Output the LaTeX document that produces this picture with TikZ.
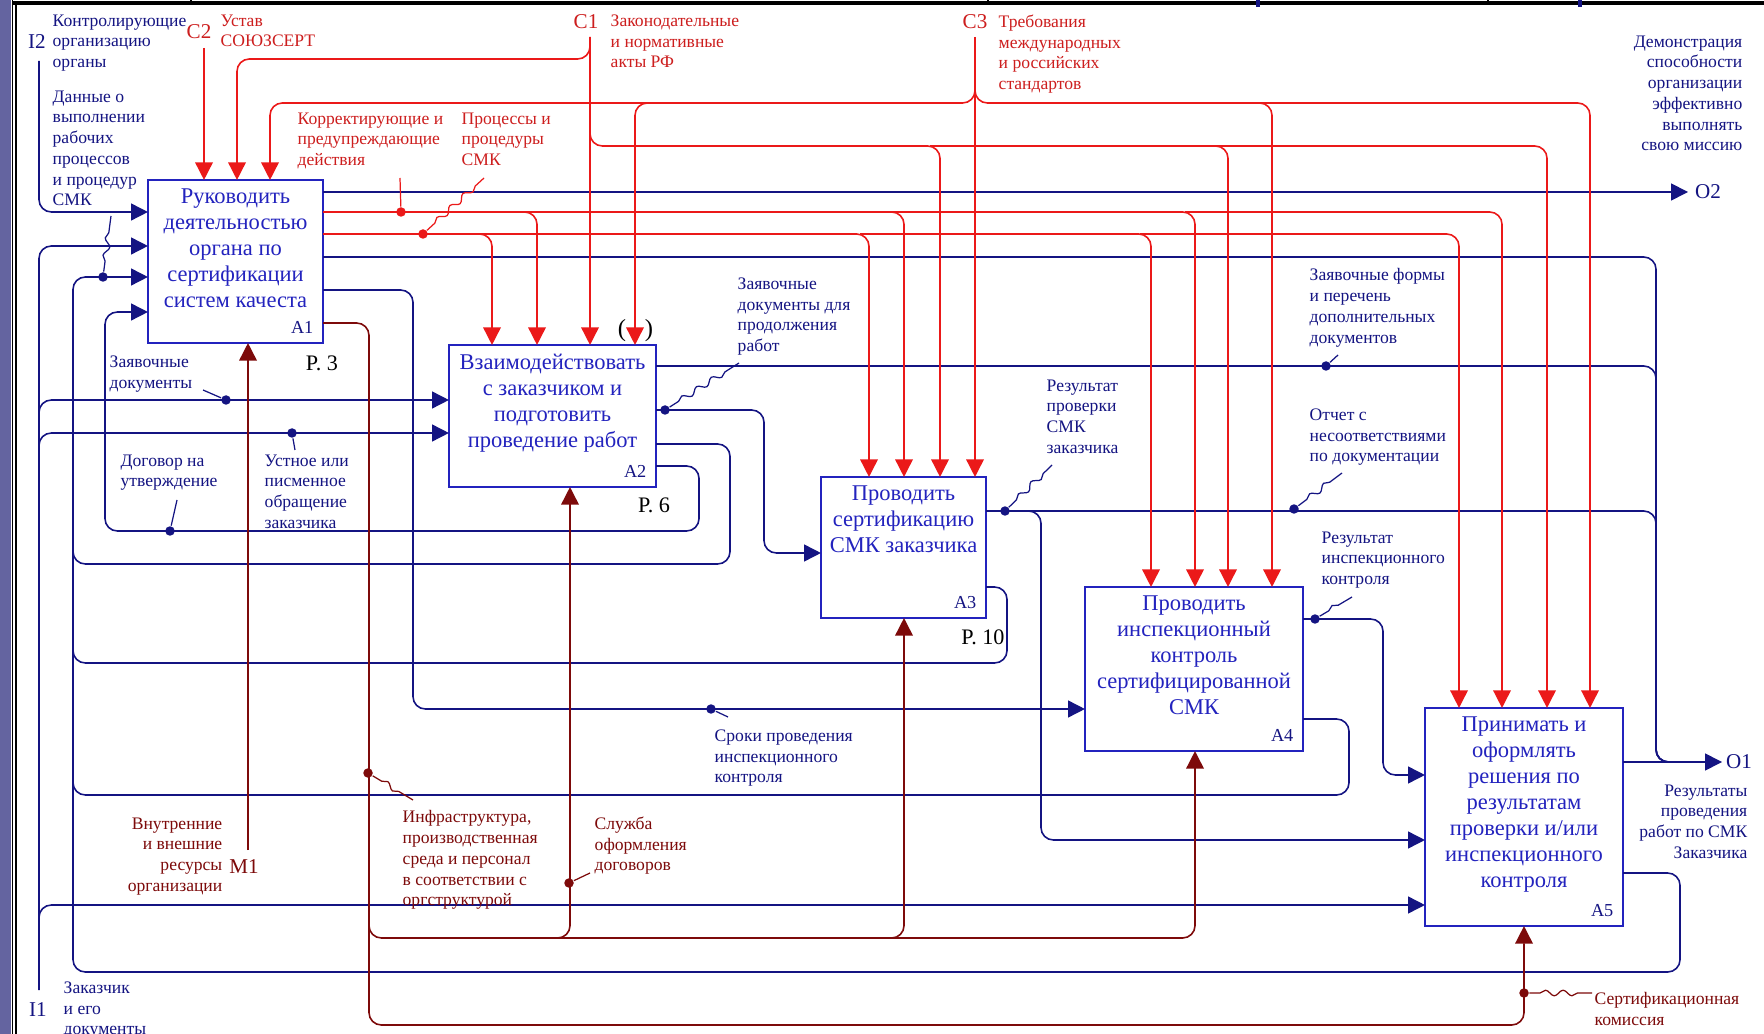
\documentclass[tikz,border=0pt]{standalone}
\usepackage{fontspec}
\setmainfont{Liberation Serif}
\usetikzlibrary{arrows.meta,positioning,decorations.pathmorphing}

\definecolor{idefblue}{RGB}{20,20,130}
\definecolor{boxblue}{RGB}{35,35,190}
\definecolor{ctlred}{RGB}{235,25,25}
\definecolor{ctltxt}{RGB}{205,30,30}
\definecolor{mechred}{RGB}{125,10,10}
\definecolor{sideband}{RGB}{100,100,160}

\tikzset{
 fn/.style={draw=boxblue,line width=0.6pt,inner sep=0pt,outer sep=0pt},
 fntext/.style={text=boxblue,font=\fontsize{6.4}{7.4}\selectfont,align=center,inner sep=0pt,anchor=north},
 fnnum/.style={text=idefblue,font=\fontsize{5.2}{6}\selectfont,inner sep=0pt,anchor=base east},
 lbl/.style={font=\fontsize{5}{5.9}\selectfont,inner sep=0pt,align=left,anchor=north west},
 rlbl/.style={lbl,align=right,anchor=north east},
 icom/.style={font=\fontsize{6}{6}\selectfont,inner sep=0pt},
 pgref/.style={font=\fontsize{6.3}{7}\selectfont,inner sep=0pt},
 io/.style={idefblue,line width=0.45pt,rounded corners=3.5pt},
 ioarr/.style={io,-{Triangle[length=4.8pt,width=4.8pt]}},
 ctl/.style={ctlred,line width=0.45pt,rounded corners=3.5pt},
 ctlarr/.style={ctl,-{Triangle[length=5pt,width=5pt]}},
 mch/.style={mechred,line width=0.45pt,rounded corners=3.5pt},
 mcharr/.style={mch,-{Triangle[length=5pt,width=5pt]}},
 jdot/.style={circle,fill,inner sep=0pt,minimum size=2.7pt},
 sq/.style={line width=0.35pt,decorate,decoration={snake,amplitude=0.8pt,segment length=5pt,pre length=3pt,post length=3pt}}
}

\begin{document}
\begin{tikzpicture}[x=0.01cm,y=-0.01cm]
\fill[white] (0,0) rectangle (1764,1034);
\useasboundingbox (0,0) rectangle (1764,1034);

% frame
\fill[sideband] (0,0) rectangle (11,1034);
\draw[black,line width=0.4pt] (12.5,0) -- (12.5,1034);
\draw[black,line width=0.4pt] (16,3) -- (16,1034);
\draw[black,line width=1pt] (12,3) -- (1764,3);
\foreach \tx in {191,988,1488} \draw[black,line width=0.5pt] (\tx,0) -- (\tx,4);
\foreach \tx in {1258,1580} \draw[idefblue,line width=1.2pt] (\tx,0) -- (\tx,7);

% activity boxes
\node[fn,minimum width=1.75cm,minimum height=1.63cm] (a1) at (235.5,261.5) {};
\node[fn,minimum width=2.07cm,minimum height=1.42cm] (a2) at (552.5,416) {};
\node[fn,minimum width=1.65cm,minimum height=1.41cm] (a3) at (903.5,547.5) {};
\node[fn,minimum width=2.18cm,minimum height=1.64cm] (a4) at (1194,669) {};
\node[fn,minimum width=1.98cm,minimum height=2.18cm] (a5) at (1524,817) {};
\node[fntext] (a1t) at ([shift={(0,8)}]a1.north) {Руководить\\деятельностью\\органа по\\сертификации\\систем качеста};
\node[fntext] (a2t) at ([shift={(0,8)}]a2.north) {Взаимодействовать\\с заказчиком и\\подготовить\\проведение работ};
\node[fntext] (a3t) at ([shift={(0,8)}]a3.north) {Проводить\\сертификацию\\СМК заказчика};
\node[fntext] (a4t) at ([shift={(0,8)}]a4.north) {Проводить\\инспекционный\\контроль\\сертифицированной\\СМК};
\node[fntext] (a5t) at ([shift={(0,8)}]a5.north) {Принимать и\\оформлять\\решения по\\результатам\\проверки и/или\\инспекционного\\контроля};
\node[fnnum] at ([shift={(-9,-10)}]a1.south east) {A1};
\node[fnnum] at ([shift={(-9,-10)}]a2.south east) {A2};
\node[fnnum] at ([shift={(-9,-10)}]a3.south east) {A3};
\node[fnnum] at ([shift={(-9,-10)}]a4.south east) {A4};
\node[fnnum] at ([shift={(-9,-10)}]a5.south east) {A5};
\node[pgref] at (322,363) {P. 3};
\node[pgref] at (654,505) {P. 6};
\node[pgref] at (983,637) {P. 10};

% boundary points
\coordinate (i2) at (39,61);
\coordinate (i1) at (39,990);
\coordinate (c2) at (204,48);
\coordinate (c1) at (590,37);
\coordinate (c3) at (975,37);
\coordinate (m1) at (248,850);
\coordinate (o2) at (1688,192);
\coordinate (o1) at (1722,762);

% inputs and outputs
\draw[ioarr] (i2) |- (a1.west |- 0,212);
\draw[ioarr] (i1) |- (a1.west |- 0,246);
\draw[ioarr] (i1 |- 0,425) |- (a2.west |- 0,400);
\draw[ioarr] (i1 |- 0,455) |- (a2.west |- 0,433);
\draw[ioarr] (i1 |- 0,930) |- (a5.west |- 0,905);
\draw[ioarr] (a2.east |- 0,444) -| (730,564) -| (73,277) -- (a1.west |- 0,277);
\draw[ioarr] (a2.east |- 0,466) -| (699,531) -| (105,312) -- (a1.west |- 0,312);
\draw[io] (a3.east |- 0,587) -| (1007,663) -| (73,540);
\draw[io] (a4.east |- 0,719) -| (1349,795) -| (73,640);
\draw[io] (a5.east |- 0,873) -| (1680,972) -| (73,780);
\draw[ioarr] (a1.east |- 0,192) -- (o2);
\draw[io] (a1.east |- 0,257) -| (1656,762) -- (1690,762);
\draw[ioarr] (a1.east |- 0,290) -| (413,709) -- (a4.west |- 0,709);
\draw[io] (a2.east |- 0,366) -| (1656,762) -- (1690,762);
\draw[ioarr] (a2.east |- 0,410) -| (764,553) -- (a3.west |- 0,553);
\draw[io] (a3.east |- 0,511) -| (1656,762) -- (1690,762);
\draw[ioarr] (1005,511) -| (1041,840) -- (a5.west |- 0,840);
\draw[ioarr] (a4.east |- 0,619) -| (1383,775) -- (a5.west |- 0,775);
\draw[ioarr] (a5.east |- 0,762) -- (o1);

% controls
\draw[ctlarr] (c2) -- (a1.north -| c2);
\draw[ctlarr] (c1) |- (237,59) -- (a1.north -| 237,0);
\draw[ctlarr] (c1) -- (a2.north -| c1);
\draw[ctlarr] (c1 |- 0,120) |- (940,146) -- (a3.north -| 940,0);
\draw[ctlarr] (930,146) -| (a4.north -| 1228,0);
\draw[ctlarr] (1215,146) -| (a5.north -| 1547,0);
\draw[ctlarr] (c3) -- (a3.north -| c3);
\draw[ctlarr] (c3 |- 0,80) |- (270,103) -- (a1.north -| 270,0);
\draw[ctlarr] (650,103) -| (a2.north -| 635,0);
\draw[ctlarr] (c3 |- 0,80) |- (1272,103) -- (a4.north -| 1272,0);
\draw[ctlarr] (1260,103) -| (a5.north -| 1590,0);
\draw[ctlarr] (a1.east |- 0,212) -| (a2.north -| 537,0);
\draw[ctlarr] (525,212) -| (a3.north -| 904,0);
\draw[ctlarr] (890,212) -| (a4.north -| 1195,0);
\draw[ctlarr] (1185,212) -| (a5.north -| 1502,0);
\draw[ctlarr] (a1.east |- 0,234) -| (a2.north -| 492,0);
\draw[ctlarr] (480,234) -| (a3.north -| 869,0);
\draw[ctlarr] (860,234) -| (a4.north -| 1151,0);
\draw[ctlarr] (1140,234) -| (a5.north -| 1459,0);
\node[icom,font=\fontsize{7}{7}\selectfont] at (622,331) {(};
\node[icom,font=\fontsize{7}{7}\selectfont] at (649,331) {)};

% mechanisms
\draw[mcharr] (m1) -- (a1.south -| m1);
\draw[mcharr] (a1.east |- 0,323) -| (369,1025) -| (a5.south -| 1524,0);
\draw[mcharr] (369,900) |- (570,938) -- (a2.south -| 570,0);
\draw[mcharr] (555,938) -| (a3.south -| 904,0);
\draw[mcharr] (890,938) -| (a4.south -| 1195,0);

% junction dots
\node[jdot,idefblue] (dd1) at (103,277) {};
\node[jdot,idefblue] (dz1) at (226,400) {};
\node[jdot,idefblue] (du) at (292,433) {};
\node[jdot,idefblue] (ddg) at (170,531) {};
\node[jdot,idefblue] (dzp) at (665,410) {};
\node[jdot,idefblue] (drp) at (1005,511) {};
\node[jdot,idefblue] (dzf) at (1326,366) {};
\node[jdot,idefblue] (dot) at (1294,509) {};
\node[jdot,idefblue] (dri) at (1315,619) {};
\node[jdot,idefblue] (dsr) at (711,709) {};
\node[jdot,ctlred] (dkp) at (401,212) {};
\node[jdot,ctlred] (dpp) at (423,234) {};
\node[jdot,mechred] (din) at (368,773) {};
\node[jdot,mechred] (dsl) at (569,883) {};
\node[jdot,mechred] (dsk) at (1524,993) {};

% squiggles
\draw[sq,idefblue] (dd1) -- (111,216);
\draw[idefblue,line width=0.35pt] (dz1) -- (203,390);
\draw[idefblue,line width=0.35pt] (du) -- (295,450);
\draw[sq,idefblue] (ddg) -- (177,500);
\draw[sq,idefblue] (dzp) -- (739,363);
\draw[sq,idefblue] (drp) -- (1052,465);
\draw[idefblue,line width=0.35pt] (dzf) -- (1338,355);
\draw[sq,idefblue] (dot) -- (1342,473);
\draw[sq,idefblue] (dri) -- (1352,597);
\draw[idefblue,line width=0.35pt] (dsr) -- (728,717);
\draw[sq,ctlred] (dkp) -- (400,178);
\draw[sq,ctlred] (dpp) -- (484,178);
\draw[sq,mechred] (din) -- (413,800);
\draw[mechred,line width=0.35pt] (dsl) -- (590,873);
\draw[sq,mechred] (dsk) -- (1592,993);

% ICOM codes
\node[icom,text=idefblue] at (37,42) {I2};
\node[icom,text=idefblue] at (38,1010) {I1};
\node[icom,text=ctltxt] at (199,32) {C2};
\node[icom,text=ctltxt] at (586,22) {C1};
\node[icom,text=ctltxt] at (975,22) {C3};
\node[icom,text=mechred] at (244,867) {M1};
\node[icom,text=idefblue] at (1708,192) {O2};
\node[icom,text=idefblue] at (1739,762) {O1};

% arrow labels
\node[lbl,text=idefblue] (lkon) at (52,14) {Контролирующие\\организацию\\органы};
\node[lbl,text=ctltxt] (lust) at (220,14) {Устав\\СОЮЗСЕРТ};
\node[lbl,text=ctltxt] (lzak) at (610,14) {Законодательные\\и нормативные\\акты РФ};
\node[lbl,text=ctltxt] (ltreb) at (998,14) {Требования\\международных\\и российских\\стандартов};
\node[rlbl,text=idefblue] (ldem) at (1743,35) {Демонстрация\\способности\\организации\\эффективно\\выполнять\\свою миссию};
\node[lbl,text=ctltxt] (lkor) at (297,112) {Корректирующие и\\предупреждающие\\действия};
\node[lbl,text=ctltxt] (lproc) at (461,112) {Процессы и\\процедуры\\СМК};
\node[lbl,text=idefblue] (ldan) at (52,90) {Данные о\\выполнении\\рабочих\\процессов\\и процедур\\СМК};
\node[lbl,text=idefblue] (lzd) at (109,355) {Заявочные\\документы};
\node[lbl,text=idefblue] (ldog) at (120,454) {Договор на\\утверждение};
\node[lbl,text=idefblue] (lobr) at (264,454) {Устное или\\писменное\\обращение\\заказчика};
\node[lbl,text=idefblue] (lzdp) at (737,277) {Заявочные\\документы для\\продолжения\\работ};
\node[lbl,text=idefblue] (lrez) at (1046,379) {Результат\\проверки\\СМК\\заказчика};
\node[lbl,text=idefblue] (lzf) at (1309,268) {Заявочные формы\\и перечень\\дополнительных\\документов};
\node[lbl,text=idefblue] (lotch) at (1309,408) {Отчет с\\несоответствиями\\по документации};
\node[lbl,text=idefblue] (lri) at (1321,531) {Результат\\инспекционного\\контроля};
\node[lbl,text=idefblue] (lsr) at (714,729) {Сроки проведения\\инспекционного\\контроля};
\node[rlbl,text=mechred] (lvn) at (223,817) {Внутренние\\и внешние\\ресурсы\\организации};
\node[lbl,text=mechred] (linf) at (402,810) {Инфраструктура,\\производственная\\среда и персонал\\в соответствии с\\оргструктурой};
\node[lbl,text=mechred] (lsl) at (594,816) {Служба\\оформления\\договоров};
\node[lbl,text=mechred] (lsert) at (1594,992) {Сертификационная\\комиссия};
\node[rlbl,text=idefblue] (lres) at (1748,784) {Результаты\\проведения\\работ по СМК\\Заказчика};
\node[lbl,text=idefblue] (lzz) at (63,981) {Заказчик\\и его\\документы};
\end{tikzpicture}
\end{document}
